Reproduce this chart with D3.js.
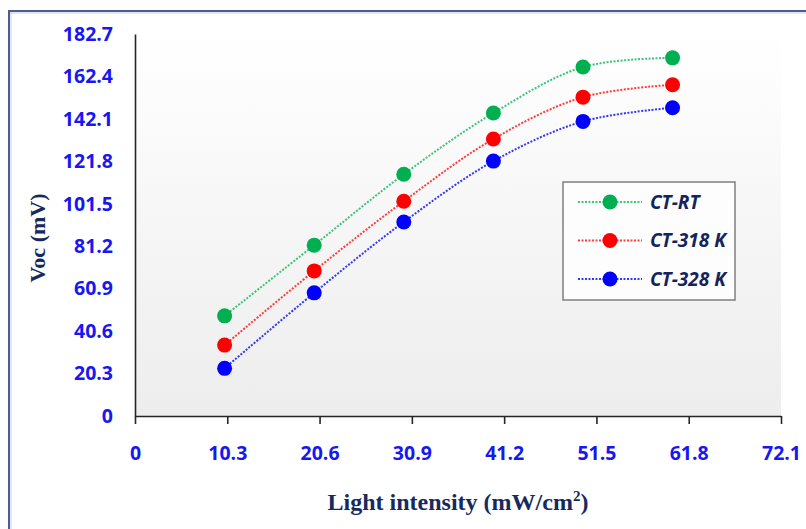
<!DOCTYPE html>
<html>
<head>
<meta charset="utf-8">
<script src="https://cdn.jsdelivr.net/npm/d3@7"></script>
<style>
    body { margin: 0; background: #fff; }
    svg { display: block; }
</style>
</head>
<body>
<script>
// Voc vs light intensity, three samples
const intensity = [10, 20, 30, 40, 50, 60];
const vocRT = [47.9, 81.7, 115.6, 144.9, 166.9, 171.3];
const voc318 = [33.9, 69.4, 102.7, 132.5, 152.5, 158.4];
const voc328 = [22.8, 58.9, 92.8, 121.9, 140.9, 147.4];
const seriesNames = ["CT-RT", "CT-318 K", "CT-328 K"];
const xTicks = [0, 10.3, 20.6, 30.9, 41.2, 51.5, 61.8, 72.1];
const yTicks = [0, 20.3, 40.6, 60.9, 81.2, 101.5, 121.8, 142.1, 162.4, 182.7];

(() => {
    var w = 806,
        h = 529;

    var margin = { top: 34, bottom: 113, left: 135, right: 25 };

    var svg = d3.select("body").append("svg")
        .attr("width", w).attr("height", h);

    var defs = svg.append("defs");
    var grad = defs.append("linearGradient").attr("id", "bg")
        .attr("x1", 0).attr("y1", 0).attr("x2", 0).attr("y2", 1);
    grad.append("stop").attr("offset", "0%").attr("stop-color", "#ffffff");
    grad.append("stop").attr("offset", "100%").attr("stop-color", "#ededed");

    // outer frame (only top and left edges are visible)
    svg.append("rect").attr("x", 9).attr("y", 11).attr("width", 900).attr("height", 700)
        .attr("fill", "none").attr("stroke", "#4a5f8e").attr("stroke-width", 2);
    svg.append("path").attr("d", "M10,13H806M11,12V529")
        .attr("fill", "none").attr("stroke", "#c3cde0").attr("stroke-width", 1);

    var iw = w - margin.left - margin.right,
        ih = h - margin.top - margin.bottom;

    var x = d3.scaleLinear().domain([0, 72.1]).range([0, iw]);
    var y = d3.scaleLinear().domain([0, 182.7]).range([ih, 0]);

    var graph = svg.append("g").attr("transform", "translate(" + [margin.left, margin.top] + ")");

    graph.append("rect").attr("width", iw).attr("height", ih).attr("fill", "url(#bg)");

    var fmt = d => d === 0 ? "0" : d.toFixed(1);

    var yAxis = graph.append("g").attr("class", "axis")
        .call(d3.axisLeft(y).tickValues(yTicks).tickFormat(fmt).tickSize(0).tickPadding(22));
    var xAxis = graph.append("g").attr("class", "axis")
        .attr("transform", "translate(0," + ih + ")")
        .call(d3.axisBottom(x).tickValues(xTicks).tickFormat(fmt).tickSize(8).tickSizeOuter(0).tickPadding(22));

    svg.selectAll(".axis path, .axis line").attr("stroke", "#262626").attr("stroke-width", 1.6);
    svg.selectAll(".axis text")
        .attr("fill", "#1717f2")
        .style("font-family", "'Open Sans', 'Liberation Sans', sans-serif")
        .style("font-weight", "bold")
        .style("font-size", "19.5px");

    var series = [
        { name: seriesNames[0], values: vocRT, color: "#00b050", line: "#3cc47a" },
        { name: seriesNames[1], values: voc318, color: "#ff0000", line: "#ff3b3b" },
        { name: seriesNames[2], values: voc328, color: "#0000ff", line: "#3434ff" }
    ];

    var line = d3.line()
        .x((d, i) => x(intensity[i]))
        .y(d => y(d))
        .curve(d3.curveCatmullRom.alpha(0.5));

    var s = graph.selectAll(".series").data(series).enter()
        .append("g").attr("class", "series");

    s.append("path")
        .attr("d", d => line(d.values))
        .attr("fill", "none")
        .attr("stroke", d => d.line)
        .attr("stroke-width", 2)
        .attr("stroke-dasharray", "2,1.5");

    s.selectAll("circle").data(d => d.values.map(v => ({ v: v, c: d.color }))).enter()
        .append("circle")
        .attr("cx", (d, i) => x(intensity[i]))
        .attr("cy", d => y(d.v))
        .attr("r", 7.5)
        .attr("fill", d => d.c);

    // axis titles
    svg.append("text")
        .attr("x", 458).attr("y", 510)
        .attr("text-anchor", "middle")
        .attr("fill", "#172a5e")
        .style("font-family", "'Liberation Serif', 'Times New Roman', serif")
        .style("font-weight", "bold")
        .style("font-size", "24px")
        .html("Light intensity (mW/cm<tspan dy='-9' font-size='15px'>2</tspan><tspan dy='9'>)</tspan>");

    svg.append("text")
        .attr("transform", "translate(45,238) rotate(-90)")
        .attr("text-anchor", "middle")
        .attr("fill", "#172a5e")
        .style("font-family", "'Liberation Serif', 'Times New Roman', serif")
        .style("font-weight", "bold")
        .style("font-size", "22px")
        .text("Voc (mV)");

    // legend
    var legend = svg.append("g").attr("transform", "translate(563,182)");
    legend.append("rect").attr("width", 172).attr("height", 118)
        .attr("fill", "#fdfdfd").attr("stroke", "#7f7f7f").attr("stroke-width", 1.5);

    var item = legend.selectAll(".item").data(series).enter()
        .append("g").attr("class", "item")
        .attr("transform", (d, i) => "translate(0," + (20 + i * 38.5) + ")");
    item.append("line").attr("x1", 15).attr("x2", 79)
        .attr("stroke", d => d.line).attr("stroke-width", 2).attr("stroke-dasharray", "2,1.5");
    item.append("circle").attr("cx", 47).attr("r", 7.5).attr("fill", d => d.color);
    item.append("text").attr("x", 87).attr("dy", "0.35em")
        .attr("fill", "#14245a")
        .style("font-family", "'Open Sans', 'Liberation Sans', sans-serif")
        .style("font-weight", "bold")
        .style("font-style", "italic")
        .style("font-size", "19px")
        .text(d => d.name);
})()
</script>
</body>
</html>
